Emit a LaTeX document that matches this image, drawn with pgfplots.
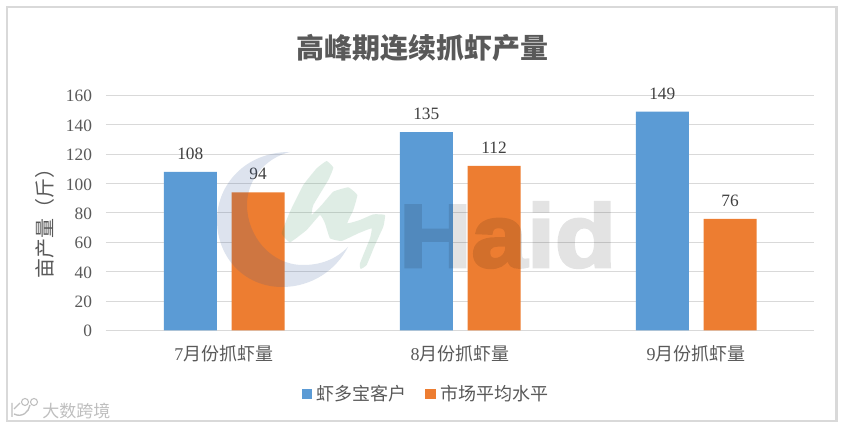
\documentclass[border=0pt]{standalone}
\usepackage{fontspec}
\usepackage{graphicx}
\usepackage{pgfplots}
\pgfplotsset{compat=1.18}
\setmainfont{Liberation Serif}
\newfontfamily\cjk{Noto Sans CJK SC}
\newfontfamily\hsans[BoldFeatures={FakeBold=3}]{Liberation Sans}
\definecolor{cblue}{HTML}{5B9BD5}
\definecolor{corange}{HTML}{ED7D31}
\definecolor{cgrid}{HTML}{D9D9D9}
\definecolor{ctext}{HTML}{595959}
\definecolor{clabel}{HTML}{404040}
\definecolor{wmblue}{HTML}{2F5597}
\definecolor{wmgreen}{HTML}{2E8B57}
\begin{document}
\begin{tikzpicture}[x=0.75pt,y=0.75pt]
\path[use as bounding box] (0,0) rectangle (843,427);
\fill[white] (0,0) rectangle (843,427);
\draw[cgrid,line width=1.8pt] (7,6) rectangle (836.5,420);
\begin{axis}[
  at={(106pt*0.75,96.5pt*0.75)},anchor=south west,
  scale only axis,width=531pt,height=176.25pt,
  xmin=-0.5,xmax=2.5,ymin=0,ymax=160,
  ytick={0,20,...,160},xtick={0,1,2},
  xticklabels={{7{\cjk 月份抓虾量}},{8{\cjk 月份抓虾量}},{9{\cjk 月份抓虾量}}},
  ymajorgrids,major grid style={cgrid,line width=0.75pt},
  axis x line*=bottom,axis y line*=left,
  x axis line style={cgrid,line width=0.75pt,-},
  y axis line style={draw=none},
  xtick style={draw=none},ytick style={draw=none},
  every tick label/.append style={font=\fontsize{13}{15}\selectfont,text=ctext},
  /pgf/number format/assume math mode=true,
  yticklabel style={xshift=-7pt,yshift=-0.6pt},
  xticklabel style={yshift=-7.75pt,text=ctext,font=\fontsize{13.5}{15}\selectfont},
  legend columns=2,
  legend style={at={(0.4525,-0.2700)},anchor=center,draw=none,fill=none,
    font=\cjk\fontsize{13.5}{15}\selectfont,text=ctext,
    /tikz/every even column/.append style={column sep=12.5pt},inner sep=0pt},
]
\addplot[ybar,bar width=39.75pt,bar shift=-25.3pt,fill=cblue,draw=none,forget plot,
  nodes near coords,nodes near coords style={font=\fontsize{13}{15}\selectfont,text=clabel,xshift=-25.3pt,yshift=5.75pt}]
  coordinates {(0,108) (1,135) (2,149)};
\addplot[ybar,bar width=39.75pt,bar shift=25.6pt,fill=corange,draw=none,forget plot,
  nodes near coords,nodes near coords style={font=\fontsize{13}{15}\selectfont,text=clabel,xshift=25.6pt,yshift=5.75pt}]
  coordinates {(0,94) (1,112) (2,76)};
\addlegendimage{only marks,mark=square*,mark size=3.4pt,color=cblue}
\addlegendentry{\hspace*{2pt}虾多宝客户}
\addlegendimage{only marks,mark=square*,mark size=3.4pt,color=corange}
\addlegendentry{\hspace*{2pt}市场平均水平}
\end{axis}
\begin{scope}[shift={(0,427)},yscale=-1]
\node[font=\cjk\bfseries\fontsize{21}{24}\selectfont,text=ctext] at (422,48) {高峰期连续抓虾产量};
\node[rotate=90,font=\cjk\fontsize{15}{17}\selectfont,text=ctext] at (45,219) {亩产量（斤）};
% watermark crescent
\fill[fill=wmblue,fill opacity=0.16]
  (290,152) .. controls (245,152) and (217,185) .. (217,220)
  .. controls (217,258) and (245,287) .. (282,287)
  .. controls (312,287) and (336,270) .. (348,247)
  .. controls (335,260) and (320,265) .. (303,265)
  .. controls (270,265) and (247,235) .. (247,205)
  .. controls (247,180) and (265,158) .. (290,152) -- cycle;
% watermark brush
\begin{scope}[shift={(270,155)},scale=0.3333]
\fill[fill=wmgreen,fill opacity=0.15] plot[smooth cycle,tension=0.2] coordinates
 {(170,18)(190,38)(175,75)(130,150)(125,180)(155,150)(190,110)(235,97)(262,120)(250,165)(232,205)(270,195)(310,178)(345,180)(340,215)(315,270)(290,330)(272,342)(270,325)(300,250)(305,220)(265,235)(215,258)(180,250)(165,205)(150,180)(110,225)(60,262)(35,235)(60,170)(100,90)(140,40)};
\end{scope}
\begin{scope}[transparency group,opacity=0.11]
\node[text=black,font=\hsans\bfseries\fontsize{67}{70}\selectfont,anchor=base west,inner sep=0pt] at (399,267) {\scalebox{1.12}[1]{Haid}};
\end{scope}
% corner mark
\node[text=gray!50,font=\cjk\fontsize{12.75}{14}\selectfont,anchor=west,inner sep=0pt] at (42,411) {大数跨境};
\draw[gray!50,line width=1pt] (12,403)--(12,417) (14,414) .. controls (22,418) and (29,412) .. (30,405) (14,409)--(20,403);
\draw[gray!50,line width=0.8pt] (25,402) circle (3.5) (34,402) circle (3.5);
\end{scope}
\end{tikzpicture}
\end{document}
